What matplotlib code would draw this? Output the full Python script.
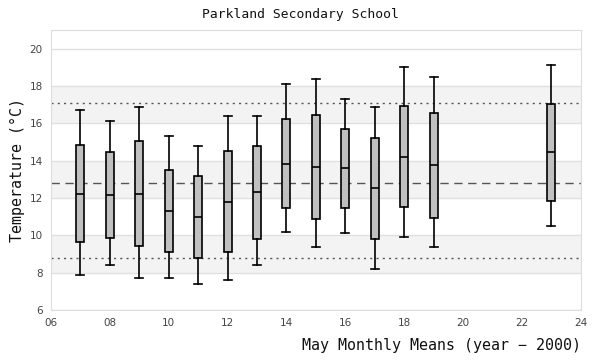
import numpy as np
import matplotlib.pyplot as plt
from matplotlib.ticker import FuncFormatter

# years (minus 2000) and box statistics, degrees C
years = [7, 8, 9, 10, 11, 12, 13, 14, 15, 16, 17, 18, 19, 23]
whislo = [7.86, 8.40, 7.70, 7.70, 7.38, 7.59, 8.40, 10.17, 9.36, 10.11, 8.18, 9.90, 9.36, 10.49]
q1 = [9.63, 9.84, 9.42, 9.09, 8.77, 9.09, 9.79, 11.45, 10.86, 11.45, 9.79, 11.51, 10.92, 11.83]
med = [12.20, 12.15, 12.20, 11.29, 10.97, 11.78, 12.31, 13.81, 13.65, 13.60, 12.53, 14.19, 13.76, 14.46]
q3 = [14.83, 14.46, 15.05, 13.49, 13.17, 14.51, 14.78, 16.23, 16.44, 15.69, 15.21, 16.93, 16.55, 17.03]
whishi = [16.71, 16.12, 16.87, 15.32, 14.78, 16.39, 16.39, 18.11, 18.37, 17.30, 16.87, 19.02, 18.48, 19.14]

upper_line = 17.1
mean_line = 12.8
lower_line = 8.77

stats = []
for i in range(len(years)):
    stats.append(dict(whislo=whislo[i], q1=q1[i], med=med[i], q3=q3[i], whishi=whishi[i]))

fig = plt.figure(figsize=(6, 3.6), dpi=100)
ax = fig.add_axes([0.085, 0.139, 0.883, 0.778])

# alternating bands
for lo in [8, 12, 16]:
    ax.axhspan(lo, lo + 2, color='#f3f3f3', zorder=0, lw=0)
for y in range(6, 21, 2):
    ax.axhline(y, color='#e0e0e0', lw=1, zorder=0.5)

ax.axhline(upper_line, color='#555555', lw=1, ls=(0, (1.5, 3)), zorder=1)
ax.axhline(lower_line, color='#555555', lw=1, ls=(0, (1.5, 3)), zorder=1)
ax.axhline(mean_line, color='#555555', lw=1, ls=(0, (6, 4)), zorder=1)

ax.bxp(stats, positions=years, widths=0.27, showfliers=False, patch_artist=True,
       boxprops=dict(facecolor='#c0c0c0', edgecolor='black', lw=1.2),
       medianprops=dict(color='black', lw=1.2),
       whiskerprops=dict(color='black', lw=1.2),
       capprops=dict(color='black', lw=1.2), capwidths=0.27, zorder=3)

ax.set_xlim(6, 24)
ax.set_ylim(6, 21)
ax.set_xticks(range(6, 25, 2))
ax.set_yticks(range(6, 21, 2))
ax.xaxis.set_major_formatter(FuncFormatter(lambda v, p: '%02d' % v))
ax.yaxis.set_major_formatter(FuncFormatter(lambda v, p: '%d' % v))
ax.tick_params(length=0, labelsize=7.5, labelcolor='#444444', pad=6)

for s in ax.spines.values():
    s.set_color('#dddddd')

mono = 'DejaVu Sans Mono'
fig.text(0.5, 0.961, 'Parkland Secondary School', ha='center', va='center',
         family=mono, fontsize=9.4, color='#111111')
ax.set_xlabel('May Monthly Means (year \u2212 2000)', family=mono, fontsize=10.8,
              color='#111111', loc='right', labelpad=7)
ax.set_ylabel('Temperature (\u00b0C)', family=mono, fontsize=10.8,
              color='#111111', labelpad=3)

fig.savefig('out.png', dpi=100)
